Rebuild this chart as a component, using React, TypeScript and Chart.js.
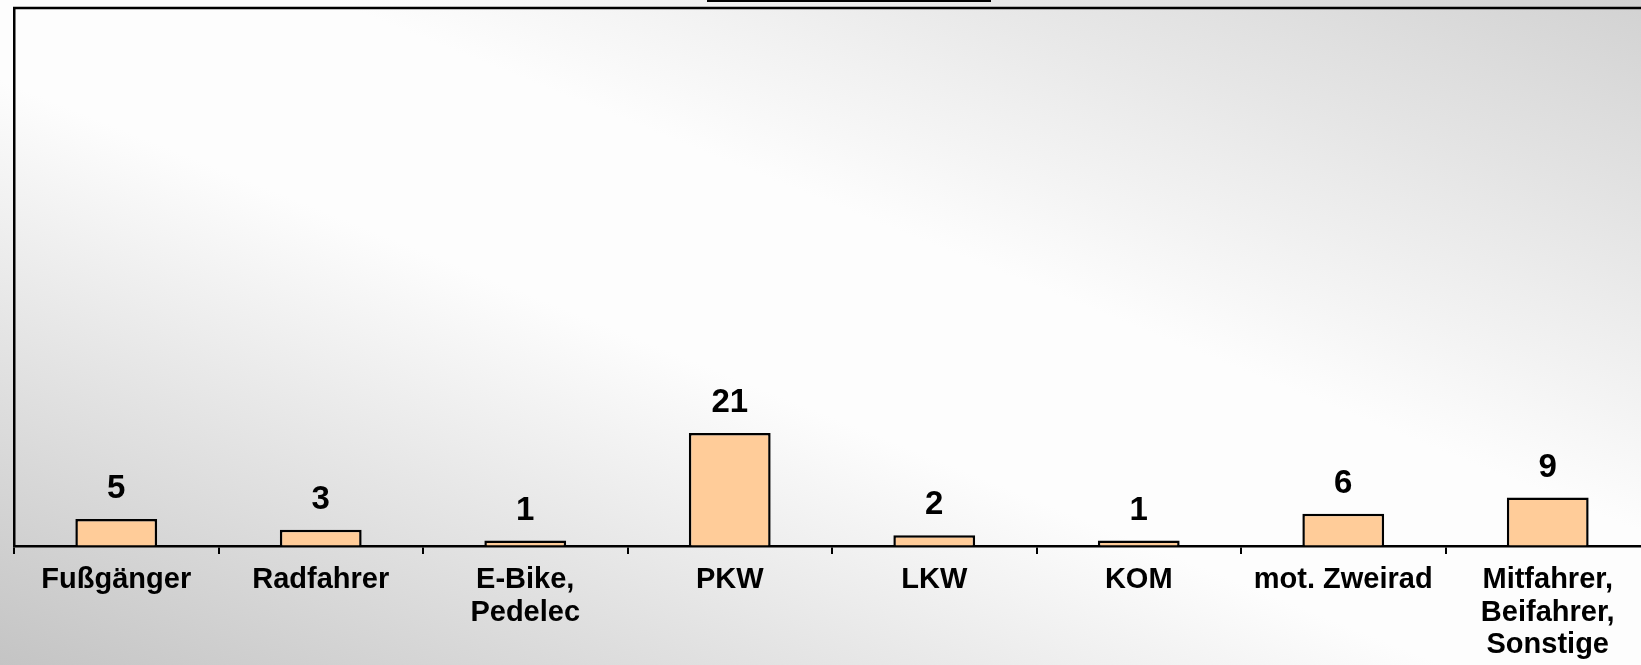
import React, { useEffect, useRef } from "react";
import { Chart, registerables } from "chart.js";

Chart.register(...registerables);

const categories: string[][] = [
  ["Fußgänger"],
  ["Radfahrer"],
  ["E-Bike,", "Pedelec"],
  ["PKW"],
  ["LKW"],
  ["KOM"],
  ["mot. Zweirad"],
  ["Mitfahrer,", "Beifahrer,", "Sonstige"],
];
const values: number[] = [5, 3, 1, 21, 2, 1, 6, 9];
const yMin = 0;
const yMax = 100;

const FONT = "'Liberation Sans', Arial, sans-serif";

const topBorderPlugin = {
  id: "topBorder",
  afterDraw(chart: any) {
    const { ctx, chartArea } = chart;
    ctx.save();
    ctx.strokeStyle = "#000";
    ctx.lineWidth = 2.5;
    ctx.beginPath();
    ctx.moveTo(chartArea.left - 1, chartArea.top);
    ctx.lineTo(chart.width, chartArea.top);
    ctx.stroke();
    ctx.restore();
  },
};

const valueLabelPlugin = {
  id: "valueLabels",
  afterDatasetsDraw(chart: any) {
    const { ctx } = chart;
    const meta = chart.getDatasetMeta(0);
    ctx.save();
    ctx.fillStyle = "#000";
    ctx.font = `bold 33px ${FONT}`;
    ctx.textAlign = "center";
    ctx.textBaseline = "alphabetic";
    meta.data.forEach((bar: any, i: number) => {
      ctx.fillText(String(values[i]), bar.x, bar.y - 21);
    });
    ctx.restore();
  },
};

export default function App() {
  const canvasRef = useRef<HTMLCanvasElement | null>(null);

  useEffect(() => {
    if (!canvasRef.current) return;
    const chart = new Chart(canvasRef.current, {
      type: "bar",
      data: {
        labels: categories,
        datasets: [
          {
            data: values,
            backgroundColor: "#FFCC99",
            borderColor: "#000000",
            borderWidth: 2.5,
            barPercentage: 0.4,
            categoryPercentage: 1,
          },
        ],
      },
      options: {
        responsive: false,
        animation: false,
        events: [],
        layout: { padding: { top: 8, left: 14, right: 10, bottom: 0 } },
        plugins: {
          legend: { display: false },
          tooltip: { enabled: false },
          title: { display: false },
        },
        scales: {
          x: {
            offset: true,
            grid: {
              display: true,
              offset: true,
              drawOnChartArea: false,
              drawTicks: true,
              tickLength: 8,
              color: "#000",
              lineWidth: 2,
            },
            border: { display: true, color: "#000", width: 2.5 },
            ticks: {
              color: "#000",
              font: { family: FONT, size: 29, weight: "bold", lineHeight: 1.12 },
              padding: 10,
              maxRotation: 0,
              autoSkip: false,
            },
            afterFit(scale: any) {
              scale.height = 119;
            },
          },
          y: {
            min: yMin,
            max: yMax,
            ticks: { display: false },
            grid: { display: true, drawOnChartArea: false, drawTicks: false },
            border: { display: true, color: "#000", width: 2.5 },
            afterFit(scale: any) {
              scale.width = 0;
            },
          },
        },
      } as any,
      plugins: [topBorderPlugin, valueLabelPlugin],
    });
    return () => chart.destroy();
  }, []);

  return (
    <div
      style={{
        position: "absolute",
        left: 0,
        top: 0,
        width: 1641,
        height: 665,
        overflow: "hidden",
        background:
          "linear-gradient(to bottom left, #d2d2d2 0%, #fdfdfd 40%, #fdfdfd 56%, #c4c4c4 100%)",
      }}
    >
      <div
        style={{
          position: "absolute",
          left: 707,
          top: 0,
          width: 284,
          height: 2,
          background: "#000",
        }}
      />
      <canvas
        ref={canvasRef}
        width={1660}
        height={665}
        style={{ position: "absolute", left: 0, top: 0, display: "block" }}
      />
    </div>
  );
}
